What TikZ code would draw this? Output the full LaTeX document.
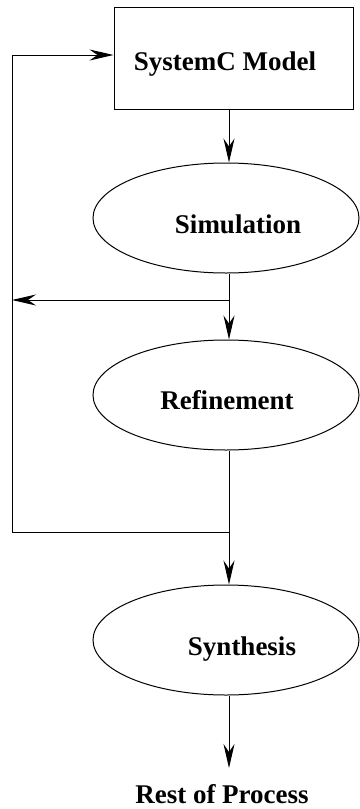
\documentclass[tikz,border=0pt]{standalone}
\usepackage{fontspec}
\setmainfont{Liberation Serif}
\usetikzlibrary{arrows.meta,shapes.geometric}

\begin{document}
\begin{tikzpicture}[x=1pt,y=-1pt,
  line width=1pt,
  flow/.style={-{Stealth[length=24pt,width=11pt,inset=8pt]}},
  modelbox/.style={draw,rectangle,minimum width=239pt,minimum height=102pt,inner sep=0pt},
  stage/.style={draw,ellipse,minimum width=266pt,minimum height=110pt,inner sep=0pt},
  caption/.style={anchor=base,inner sep=0pt,font=\fontsize{27}{30}\selectfont\bfseries}]
  \useasboundingbox (0,0) rectangle (359,809);

  % process stages
  \node[modelbox] (model) at (233.5,58) {};
  \node[stage] (sim) at (226,218) {};
  \node[stage] (ref) at (226,395) {};
  \node[stage] (syn) at (226,640) {};

  % stage captions
  \node[caption] (tmodel) at (225,70) {SystemC Model};
  \node[caption] (tsim) at (238,233) {Simulation};
  \node[caption] (tref) at (227,409) {Refinement};
  \node[caption] (tsyn) at (242,655) {Synthesis};
  \node[caption] (rest) at (222,803) {Rest of Process};

  % junctions on the main column and the return path
  \coordinate (j1) at (229,300);
  \coordinate (l1) at (12,300);
  \coordinate (j2) at (229,532);
  \coordinate (l2) at (12,532);
  \coordinate (ltop) at (12,55);
  \coordinate (restin) at (229,768);

  % main flow
  \draw[flow] (model.south -| j1) -- (sim.north -| j1);
  \draw[flow] (sim.south -| j1) -- (ref.north -| j1);
  \draw[flow] (ref.south -| j1) -- (syn.north -| j1);
  \draw[flow] (syn.south -| j1) -- (restin);

  % feedback paths
  \draw[flow] (j1) -- (l1);
  \draw[flow] (j2) -- (l2) -- (ltop) -- (model.west |- ltop);
\end{tikzpicture}
\end{document}
